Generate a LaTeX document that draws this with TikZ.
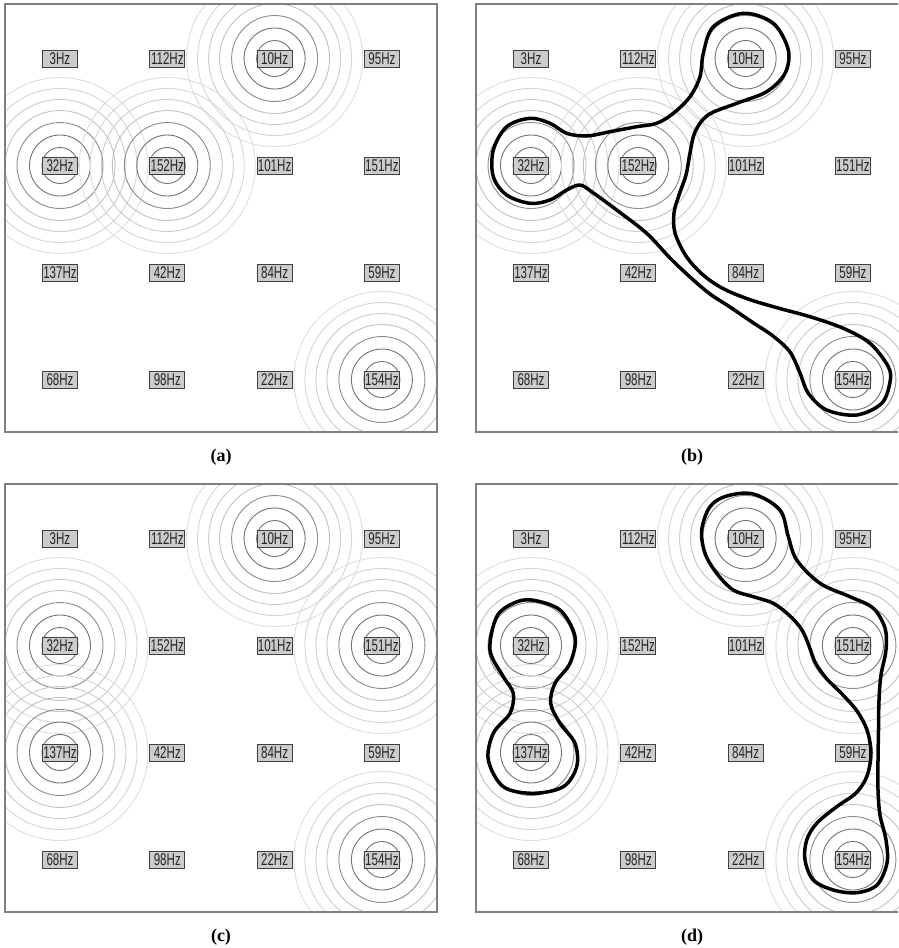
\documentclass[tikz,border=0pt]{standalone}
\usepackage{fontspec}
\setmainfont{Liberation Serif}
\newfontfamily\hzfont{Liberation Sans}[FakeStretch=0.68]
\usetikzlibrary{backgrounds}

% griglia di etichette di un pannello
\newcommand{\griglia}[1]{%
  \foreach \f [count=\k from 0] in {3,112,10,95,32,152,101,151,137,42,84,59,68,98,22,154} {
    \pgfmathtruncatemacro{\col}{mod(\k,4)}
    \pgfmathtruncatemacro{\row}{floor(\k/4)}
    \node (#1\f) [freq] at (55+107.3*\col, 54.5+107*\row) {\f Hz};
  }}

% anelli attorno ai nodi attivi
\newcommand{\anelli}[1]{%
  \foreach \n in {#1}
    \foreach \r/\c in {18/55,30.5/55,43/45,55/24,66/20,77/16,88/13}
      \draw[black!\c, line width=0.9pt] (\n) circle[radius=\r pt];}

\begin{document}
\begin{tikzpicture}[x=1pt, y=-1pt]

% Stili
\tikzstyle{freq} = [rectangle, draw=black!75, fill=black!20, line width=0.8pt,
    minimum width=35pt, minimum height=17pt, inner sep=0pt, text=black!85,
    font=\hzfont\fontsize{17}{17}\selectfont]
\tikzstyle{cornice} = [draw=black!50, line width=1.5pt]
\tikzstyle{blob} = [line width=3.5pt, black, line join=round]
\tikzstyle{didascalia} = [font=\bfseries\fontsize{18}{20}\selectfont]

\clip (0,0) rectangle (898,948);

% Etichette
\begin{scope}[shift={(5,4)}]     \griglia{a} \end{scope}
\begin{scope}[shift={(476,4)}]   \griglia{b} \end{scope}
\begin{scope}[shift={(5,484)}]   \griglia{c} \end{scope}
\begin{scope}[shift={(476,484)}] \griglia{d} \end{scope}

% Anelli
\begin{scope}[on background layer]
  \fill[white] (0,0) rectangle (898,948);
  \begin{scope}
    \clip (5,4) rectangle (437,432);
    \anelli{a10,a32,a152,a154}
  \end{scope}
  \begin{scope}
    \clip (476,4) rectangle (908,432);
    \anelli{b10,b32,b152,b154}
  \end{scope}
  \begin{scope}
    \clip (5,484) rectangle (437,912);
    \anelli{c10,c32,c151,c137,c154}
  \end{scope}
  \begin{scope}
    \clip (476,484) rectangle (908,912);
    \anelli{d10,d32,d151,d137,d154}
  \end{scope}
\end{scope}

% Cornici
\draw[cornice] (5,4) rectangle (437,432);
\draw[cornice] (476,4) rectangle (908,432);
\draw[cornice] (5,484) rectangle (437,912);
\draw[cornice] (476,484) rectangle (908,912);

% Contorni
\draw[blob] plot[smooth cycle, tension=0.55] coordinates {
  (743.3,13.3) (773.3,23.3) (788.3,50) (785,73.3) (766.7,91.7) (736.7,103.3)
  (708,115) (695,132) (690,153) (686,175) (679,195) (674,213)
  (675,233) (686,256) (702,274) (722,288) (748,299)
  (778,308) (810,316.7) (843.3,328.3) (870,343.3) (888.3,366.7) (890,382)
  (881.7,403.3) (856.7,415) (826.7,410) (808.3,393.3) (800,373)
  (790,352) (773,336) (752,322) (730,307) (710,294) (690,277) (670,258) (646.7,233.3)
  (616.7,210) (592,192) (580,185) (566.7,190) (550,200) (530,203.3) (506.7,195)
  (493.3,176.7) (493.3,150) (506.7,126.7) (530,118.3) (550,123.3) (566.7,133.3)
  (586.7,136) (610,131.7) (636.7,126.7) (656.7,123.3) (673.3,113.3) (690,96.7)
  (700,76.7) (703.3,53.3) (713.3,26.7)};
\draw[blob] plot[smooth cycle, tension=0.55] coordinates {
  (531.7,600) (560,610) (575,636.7) (570,663.3) (555,683.3) (550.7,703.3)
  (560,723.3) (575,743.3) (576.7,766.7) (563.3,786.7) (533.3,793.3) (503.3,786.7)
  (488.3,760) (493.3,733.3) (510,713.3) (513.3,693.3) (503.3,676.7) (490,650)
  (496.7,616.7) (513.3,603.3)};
\draw[blob] plot[smooth cycle, tension=0.55] coordinates {
  (753.3,494) (780,510) (788.3,536.7) (796.7,560) (820,583.3) (850,596.7)
  (873,608) (885,628) (886,650) (881,675) (879,700) (878.5,730) (878,760)
  (878,790) (880,815) (886,840) (887,863) (877,885) (856.7,892.7) (833.3,890)
  (813.3,880) (805,860) (806.7,840) (816.7,823.3) (836.7,806.7) (856,793)
  (867,776) (871,753) (867,730) (857,711) (842,694) (826,678) (815,662)
  (809,646) (802,630) (790,616) (773.3,603.3) (753.3,596.7) (733.3,590)
  (716.7,573.3) (705,553.3) (701.7,530) (710,506.7) (726.7,496)};

% Didascalie
\node (capa) [didascalia] at (221,457) {(a)};
\node (capb) [didascalia] at (692,457) {(b)};
\node (capc) [didascalia] at (221,937) {(c)};
\node (capd) [didascalia] at (692,937) {(d)};

\end{tikzpicture}
\end{document}
